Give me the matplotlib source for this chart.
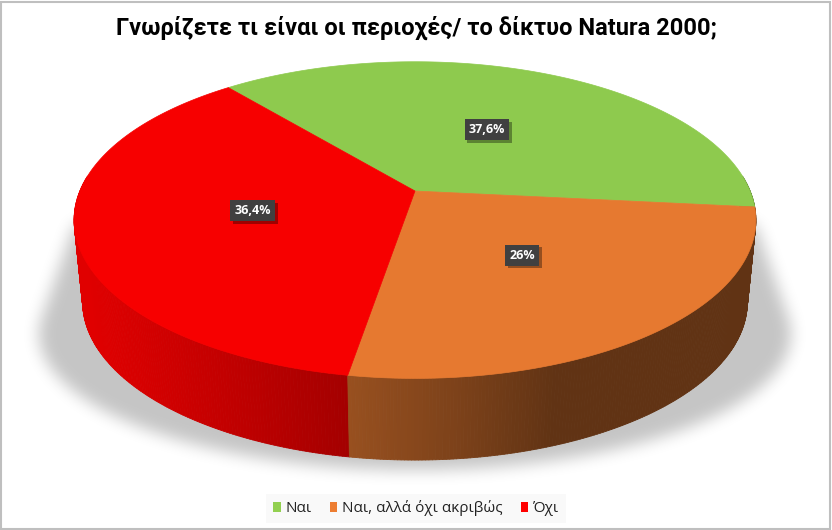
import numpy as np
import matplotlib
matplotlib.use('Agg')
import matplotlib.pyplot as plt
from matplotlib.patches import Polygon, Rectangle, Patch
from matplotlib.collections import PolyCollection
from matplotlib.path import Path
import matplotlib.patheffects as pe

# ---------------- data ----------------
categories = ['Ναι', 'Ναι, αλλά όχι ακριβώς', 'Όχι']
values = [37.6, 26.0, 36.4]
value_labels = ['37,6%', '26%', '36,4%']
colors = ['#92D050', '#ED7D31', '#FF0000']
title = 'Γνωρίζετε τι είναι οι περιοχές/ το δίκτυο Natura 2000;'

# ---------------- figure ----------------
W, H = 832, 530
fig = plt.figure(figsize=(W / 100, H / 100), dpi=100)
fig.patch.set_facecolor('white')
ax = fig.add_axes([0, 0, 1, 1])
ax.set_xlim(0, W)
ax.set_ylim(H, 0)
ax.axis('off')

# perspective projection of a unit-radius disk (3D pie)
phi = np.deg2rad(26.6)
s, c = np.sin(phi), np.cos(phi)
D = 4.87
kx, ky = 1632, 1664
cx, cy = 415, 191
h = 0.232
zscale_y = 352.0   # screen drop per unit height
zscale_x = 0.108   # horizontal shrink per unit depth below top


def proj(x, y, z):
    depth = D + y * c
    X = cx + kx * x / depth
    Y = cy - ky * (y * s) / depth
    X = cx + (X - cx) * (1 + zscale_x * z)
    Y = Y - z * zscale_y
    return X, Y


def rgb(hexc):
    hexc = hexc.lstrip('#')
    return np.array([int(hexc[i:i + 2], 16) / 255 for i in (0, 2, 4)])


# slice angular ranges (clockwise from start angle)
start = 129.5
total = float(sum(values))
ranges = []
a = start
for v in values:
    sweep = 360.0 * v / total
    ranges.append((a - sweep, a))
    a -= sweep

# ---------------- shadow ----------------
tt = np.linspace(0, 2 * np.pi, 360)
front = np.deg2rad(np.linspace(188, 352, 120))
px, py = proj(np.cos(front), np.sin(front), 0 * front)
ground = np.column_stack([415 + 376 * np.cos(tt), 334 + 136 * np.sin(tt)])
pts = np.vstack([np.column_stack([px, py + 12]), ground])


def hull(points):
    pts_ = sorted(map(tuple, points))

    def cross(o, a_, b_):
        return (a_[0] - o[0]) * (b_[1] - o[1]) - (a_[1] - o[1]) * (b_[0] - o[0])
    lower, upper = [], []
    for p in pts_:
        while len(lower) >= 2 and cross(lower[-2], lower[-1], p) <= 0:
            lower.pop()
        lower.append(p)
    for p in reversed(pts_):
        while len(upper) >= 2 and cross(upper[-2], upper[-1], p) <= 0:
            upper.pop()
        upper.append(p)
    return np.array(lower[:-1] + upper[:-1])


hp = Path(hull(pts))
gx, gy = np.meshgrid(np.arange(W) + 0.5, np.arange(H) + 0.5)
mask = hp.contains_points(np.column_stack([gx.ravel(), gy.ravel()])).reshape(H, W).astype(float)


def box_blur(img, r):
    pad = np.pad(img, ((r, r), (r, r)), mode='constant')
    cs = np.cumsum(np.cumsum(pad, axis=0), axis=1)
    cs = np.pad(cs, ((1, 0), (1, 0)), mode='constant')
    k = 2 * r + 1
    out = (cs[k:, k:] - cs[:-k, k:] - cs[k:, :-k] + cs[:-k, :-k]) / (k * k)
    return out


for _ in range(3):
    mask = box_blur(mask, 7)
shadow = np.zeros((H, W, 4))
shadow[..., 3] = mask * 0.23
ax.imshow(shadow, extent=(0, W, H, 0), origin='upper', zorder=0, interpolation='bilinear')

# ---------------- sides ----------------
quads, qcols, qdepth = [], [], []
step = 0.5
for (lo, hi), col in zip(ranges, colors):
    base = rgb(col)
    n = max(2, int(np.ceil((hi - lo) / step)))
    ts = np.linspace(lo, hi, n + 1)
    for t0, t1 in zip(ts[:-1], ts[1:]):
        tm = np.deg2rad((t0 + t1) / 2)
        if np.sin(tm) > 0.1:
            continue
        r0, r1 = np.deg2rad(t0), np.deg2rad(t1)
        x0, y0 = np.cos(r0), np.sin(r0)
        x1, y1 = np.cos(r1), np.sin(r1)
        p1 = proj(x0, y0, 0)
        p2 = proj(x1, y1, 0)
        p3 = proj(x1, y1, -h)
        p4 = proj(x0, y0, -h)
        f = 0.41 + 0.47 * max(0.0, np.cos(tm - np.deg2rad(200)))
        quads.append([p1, p2, p3, p4])
        qcols.append(np.clip(base * f, 0, 1))
        qdepth.append(np.sin(tm))
order = np.argsort(qdepth)[::-1]
pc = PolyCollection([quads[i] for i in order], facecolors=[qcols[i] for i in order],
                    edgecolors=[qcols[i] for i in order], linewidths=0.6, zorder=1)
ax.add_collection(pc)

# ---------------- top faces ----------------
for (lo, hi), col in zip(ranges, colors):
    th = np.deg2rad(np.linspace(lo, hi, 200))
    xs, ys = proj(np.cos(th), np.sin(th), 0 * th)
    c0 = proj(0, 0, 0)
    poly = np.vstack([[c0[0], c0[1]], np.column_stack([xs, ys])])
    fc = np.clip(rgb(col) * 0.97, 0, 1)
    ax.add_patch(Polygon(poly, closed=True, facecolor=fc, edgecolor=fc, lw=0.5, zorder=2))

# ---------------- data labels ----------------
for (lo, hi), lab in zip(ranges, value_labels):
    m = np.deg2rad((lo + hi) / 2)
    lx, ly = proj(0.49 * np.cos(m), 0.49 * np.sin(m), 0)
    t = ax.text(lx, ly, lab, ha='center', va='center', fontsize=9, color='white',
                family='Open Sans', fontweight='bold', zorder=5,
                bbox=dict(boxstyle='square,pad=0.32', fc='#404040', ec='none'))
    t.get_bbox_patch().set_path_effects([
        pe.SimplePatchShadow(offset=(2, -2), shadow_rgbFace='black', alpha=0.35),
        pe.Normal()])

# ---------------- title ----------------
fig.text(0.5, 1 - 28 / H, title, ha='center', va='center',
         fontweight='bold', family='Roboto', fontsize=17, color='black')

# ---------------- legend ----------------
handles = [Patch(facecolor=col, edgecolor='none') for col in colors]
leg = fig.legend(handles, categories, loc='center', bbox_to_anchor=(0.5, 1 - 508.5 / H),
                 ncol=3, frameon=True, handlelength=0.5, handleheight=0.6,
                 handletextpad=0.3, columnspacing=1.2, borderpad=0.45,
                 prop={'family': 'Open Sans', 'size': 11})
leg.get_frame().set_facecolor('#F8F8F8')
leg.get_frame().set_edgecolor('none')
leg.get_frame().set_boxstyle('square', pad=0)
for t in leg.get_texts():
    t.set_color('#222222')

# ---------------- border ----------------
fig.patches.append(Rectangle((0.8 / W, 0.8 / H), 1 - 2.6 / W, 1 - 2.6 / H,
                             transform=fig.transFigure, fill=False,
                             edgecolor='#BFBFBF', lw=1.5, zorder=10))

fig.savefig('out.png', dpi=100, facecolor='white')
